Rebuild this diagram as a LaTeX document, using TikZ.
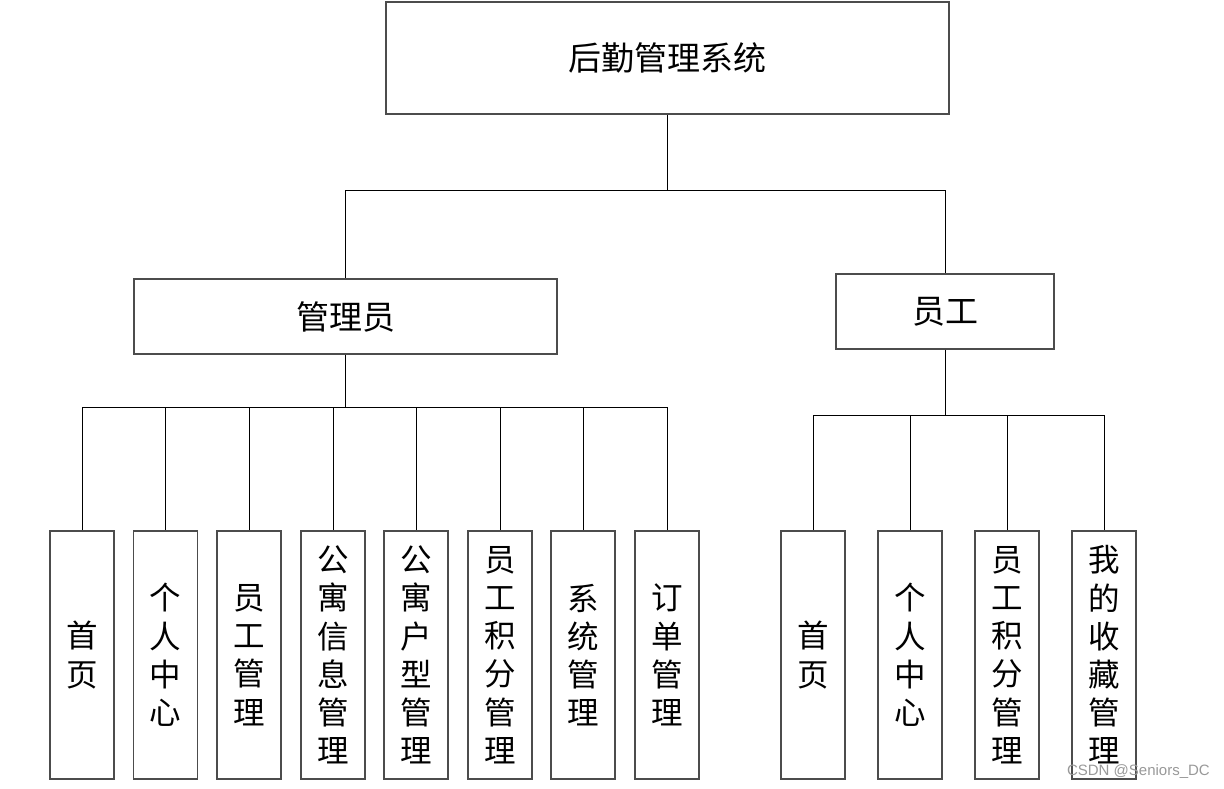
\documentclass[tikz,border=0pt]{standalone}
\usepackage{fontspec}
\newfontfamily\cjk{Noto Sans CJK SC}
\newfontfamily\wmfont{Liberation Sans}
\begin{document}
\begin{tikzpicture}[x=1pt,y=-1pt,
  box/.style={draw=black!70, line width=1.1pt, fill=white, inner sep=0pt, align=center},
  topbox/.style={box, minimum width=563pt, minimum height=112pt, font=\cjk\fontsize{33}{38}\selectfont},
  midbox/.style={box, minimum height=75pt, font=\cjk\fontsize{33}{38}\selectfont},
  leaf/.style={box, minimum width=64pt, minimum height=248pt, font=\cjk\fontsize{31.5}{38.2}\selectfont},
  conn/.style={draw=black, line width=0.9pt}]
\useasboundingbox (0,0) rectangle (1224,788);
\fill[white] (0,0) rectangle (1224,788);

\node[topbox] (top) at (667.5,58) {后勤管理系统};
\node[midbox, minimum width=423pt] (adm) at (345.5,316.5) {管理员};
\node[midbox, minimum width=218pt] (emp) at (945,311.5) {员工};

\node[leaf] (a1) at (82,655) {首\\页};
\node[leaf] (a2) at (165.5,655) {个\\人\\中\\心};
\node[leaf] (a3) at (249,655) {员\\工\\管\\理};
\node[leaf] (a4) at (333,655) {公\\寓\\信\\息\\管\\理};
\node[leaf] (a5) at (416,655) {公\\寓\\户\\型\\管\\理};
\node[leaf] (a6) at (500,655) {员\\工\\积\\分\\管\\理};
\node[leaf] (a7) at (583,655) {系\\统\\管\\理};
\node[leaf] (a8) at (667,655) {订\\单\\管\\理};

\node[leaf] (e1) at (813,655) {首\\页};
\node[leaf] (e2) at (910,655) {个\\人\\中\\心};
\node[leaf] (e3) at (1007,655) {员\\工\\积\\分\\管\\理};
\node[leaf] (e4) at (1104,655) {我\\的\\收\\藏\\管\\理};

\coordinate (b1) at (667.5,190);
\coordinate (b2) at (345.5,407);
\coordinate (b3) at (945,415);

\draw[conn] (top.south) -- (b1);
\draw[conn] (b1) -| (adm.north);
\draw[conn] (b1) -| (emp.north);

\draw[conn] (adm.south) -- (b2);
\foreach \n in {a1,a2,a3,a4,a5,a6,a7,a8} {\draw[conn] (b2) -| (\n.north);}

\draw[conn] (emp.south) -- (b3);
\foreach \n in {e1,e2,e3,e4} {\draw[conn] (b3) -| (\n.north);}

\node[anchor=east, inner sep=0pt, text=black!40, font=\wmfont\fontsize{15}{17}\selectfont] (wm) at (1210,772) {CSDN @Seniors\_DC};
\end{tikzpicture}
\end{document}
